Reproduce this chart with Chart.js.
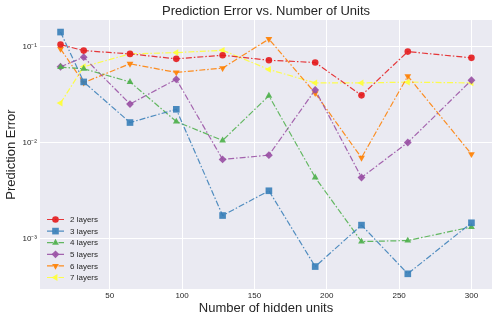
<!DOCTYPE html>
<html>
<head>
<meta charset="utf-8">
<script src="https://cdn.jsdelivr.net/npm/chart.js@4/dist/chart.umd.min.js"></script>
<style>
  html, body { margin: 0; padding: 0; background: #fff; }
  #wrap { width: 498px; height: 321px; }
</style>
</head>
<body>
<div id="wrap"><canvas id="chart" width="498" height="321"></canvas></div>
<script>
// hidden units on the x axis
const units = [16, 32, 64, 96, 128, 160, 192, 224, 256, 300]

// prediction error per depth
const err2 = [0.106, 0.0916, 0.0847, 0.0752, 0.082, 0.0727, 0.0689, 0.0313, 0.0895, 0.077]
const err3 = [0.143, 0.0432, 0.0163, 0.0224, 0.00175, 0.00317, 0.000514, 0.00139, 0.000432, 0.00147]
const err4 = [0.0616, 0.0593, 0.0432, 0.0167, 0.0106, 0.031, 0.00436, 0.000937, 0.00096, 0.00133]
const err5 = [0.0622, 0.0782, 0.0254, 0.046, 0.00673, 0.00745, 0.0357, 0.00436, 0.0101, 0.045]
const err6 = [0.0954, 0.0425, 0.0668, 0.0543, 0.0602, 0.121, 0.033, 0.007, 0.0497, 0.00764]
const err7 = [0.026, 0.0622, 0.0847, 0.0873, 0.0923, 0.0583, 0.0422, 0.0422, 0.043, 0.0422]

const labels = ['2 layers', '3 layers', '4 layers', '5 layers', '6 layers', '7 layers']
const colors = ['#e41a1c', '#377eb8', '#4daf4a', '#984ea3', '#ff7f00', '#ffff33']
const styles = ['circle', 'rect', 'triangle', 'rectRot', 'triangle', 'triangle']
const rotations = [0, 0, 0, 0, 180, -90]
const yTicks = [1e-3, 1e-2, 1e-1]
const xTicks = [50, 100, 150, 200, 250, 300]
const title = 'Prediction Error vs. Number of Units'

const FONT = "'Liberation Sans', Arial, sans-serif"
const DASH = [6, 2, 1.5, 2]
// chart.js sizes each point style differently, these give matplotlib-ish markers
const radii = [3.3, 4.7, 3.9, 3.9, 3.9, 3.9]

const series = [err2, err3, err4, err5, err6, err7]
const datasets = series.map(function (vals, i) {
  return {
    label: labels[i],
    data: units.map(function (u, j) { return { x: u, y: vals[j] } }),
    borderColor: colors[i] + 'dd',
    backgroundColor: colors[i],
    borderWidth: 1.2,
    borderDash: DASH,
    pointStyle: styles[i],
    rotation: rotations[i],
    pointRadius: radii[i],
    pointBorderWidth: 0,
    pointBackgroundColor: colors[i] + 'e6',
    tension: 0
  }
})

const supers = { '-1': '10⁻¹', '-2': '10⁻²', '-3': '10⁻³' }

const plotBg = {
  id: 'plotBg',
  beforeDraw (chart) {
    const a = chart.chartArea
    const ctx = chart.ctx
    ctx.save()
    ctx.fillStyle = '#eaeaf2'
    ctx.fillRect(a.left, a.top, a.right - a.left, a.bottom - a.top)
    ctx.restore()
  }
}

// title centred over the axes, like matplotlib does
const axesTitle = {
  id: 'axesTitle',
  afterDraw (chart) {
    const a = chart.chartArea
    const ctx = chart.ctx
    ctx.save()
    ctx.fillStyle = '#262626'
    ctx.font = '13px ' + FONT
    ctx.textAlign = 'center'
    ctx.textBaseline = 'middle'
    ctx.fillText(title, (a.left + a.right) / 2, 11)
    ctx.restore()
  }
}

const lineLegend = {
  id: 'lineLegend',
  afterDraw (chart) {
    const ctx = chart.ctx
    ctx.save()
    chart.data.datasets.forEach(function (ds, i) {
      const y = 219.5 + i * 11.6
      ctx.strokeStyle = ds.borderColor
      ctx.lineWidth = 1.2
      ctx.setLineDash(DASH)
      ctx.beginPath()
      ctx.moveTo(47, y)
      ctx.lineTo(64, y)
      ctx.stroke()
      ctx.setLineDash([])
      ctx.fillStyle = ds.pointBackgroundColor
      Chart.helpers.drawPoint(ctx, {
        pointStyle: ds.pointStyle,
        rotation: ds.rotation,
        radius: ds.pointRadius,
        borderWidth: 0
      }, 55.5, y)
      ctx.fillStyle = '#262626'
      ctx.font = '8px ' + FONT
      ctx.textBaseline = 'middle'
      ctx.fillText(ds.label, 70, y + 0.5)
    })
    ctx.restore()
  }
}

new Chart(document.getElementById('chart'), {
  type: 'line',
  data: { datasets: datasets },
  plugins: [plotBg, axesTitle, lineLegend],
  options: {
    responsive: false,
    animation: false,
    layout: { padding: { left: 0, right: 6, top: 20, bottom: 0 } },
    plugins: {
      legend: { display: false },
      tooltip: { enabled: false },
      title: { display: false }
    },
    scales: {
      x: {
        type: 'linear',
        min: 1.8,
        max: 314.2,
        afterBuildTicks (scale) {
          scale.ticks = xTicks.map(function (v) { return { value: v } })
        },
        afterFit (scale) { scale.height = 32 },
        grid: { color: '#ffffff', lineWidth: 1, drawTicks: false },
        border: { display: false },
        ticks: {
          color: '#262626',
          font: { family: FONT, size: 8 },
          padding: 2,
          maxRotation: 0
        },
        title: {
          display: true,
          text: 'Number of hidden units',
          color: '#262626',
          font: { family: FONT, size: 13 },
          padding: { top: 0, bottom: 5 }
        }
      },
      y: {
        type: 'logarithmic',
        min: 3.23e-4,
        max: 0.191,
        afterBuildTicks (scale) {
          scale.ticks = yTicks.map(function (v) { return { value: v } })
        },
        afterFit (scale) { scale.width = 40 },
        grid: { color: '#ffffff', lineWidth: 1, drawTicks: false },
        border: { display: false },
        ticks: {
          color: '#262626',
          font: { family: FONT, size: 8 },
          padding: 3,
          callback: function (v) {
            const k = String(Math.round(Math.log10(v)))
            return supers[k] || ''
          }
        },
        title: {
          display: true,
          text: 'Prediction Error',
          color: '#262626',
          font: { family: FONT, size: 13 },
          padding: { top: 4, bottom: 2 }
        }
      }
    }
  }
})
</script>
</body>
</html>
